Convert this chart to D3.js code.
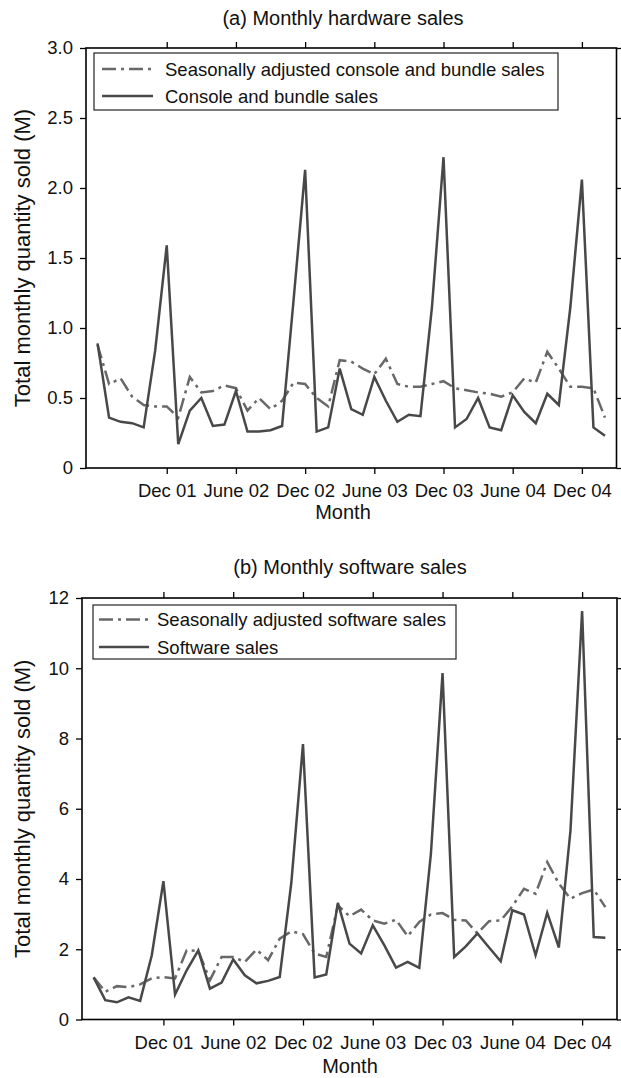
<!DOCTYPE html>
<html><head><meta charset="utf-8">
<script src="https://cdn.jsdelivr.net/npm/d3@7"></script>
<style>
body{margin:0;background:#fff}
text{font-family:"Liberation Sans",Arial,Helvetica,sans-serif;fill:#111}
</style>
</head><body>
<svg id="c" width="621" height="1078"></svg>
<script>
// ---------- data ----------
const months = ["2001-06","2001-07","2001-08","2001-09","2001-10","2001-11","2001-12",
  "2002-01","2002-02","2002-03","2002-04","2002-05","2002-06","2002-07","2002-08","2002-09","2002-10","2002-11","2002-12",
  "2003-01","2003-02","2003-03","2003-04","2003-05","2003-06","2003-07","2003-08","2003-09","2003-10","2003-11","2003-12",
  "2004-01","2004-02","2004-03","2004-04","2004-05","2004-06","2004-07","2004-08","2004-09","2004-10","2004-11","2004-12",
  "2005-01","2005-02"];

const hwSales = [0.89,0.36,0.33,0.32,0.29,0.84,1.59,
  0.17,0.41,0.50,0.30,0.31,0.55,0.26,0.26,0.27,0.30,1.20,2.13,
  0.26,0.29,0.71,0.42,0.38,0.65,0.48,0.33,0.38,0.37,1.15,2.22,
  0.29,0.35,0.50,0.29,0.27,0.52,0.40,0.32,0.53,0.45,1.15,2.06,
  0.29,0.23];
const hwAdjusted = [0.88,0.60,0.64,0.51,0.45,0.44,0.44,
  0.36,0.65,0.54,0.55,0.59,0.57,0.41,0.50,0.42,0.48,0.61,0.60,
  0.50,0.44,0.77,0.76,0.71,0.67,0.78,0.60,0.58,0.58,0.60,0.62,
  0.57,0.555,0.54,0.53,0.51,0.54,0.64,0.61,0.83,0.71,0.58,0.58,
  0.57,0.36];

const swSales = [1.20,0.55,0.49,0.63,0.53,1.83,3.94,
  0.71,1.40,1.97,0.88,1.05,1.71,1.26,1.03,1.10,1.21,3.90,7.84,
  1.20,1.28,3.32,2.16,1.88,2.68,2.11,1.48,1.64,1.47,4.72,9.86,
  1.78,2.08,2.45,2.05,1.66,3.11,2.99,1.83,3.04,2.05,5.38,11.63,
  2.35,2.33];
const swAdjusted = [1.20,0.79,0.95,0.92,1.00,1.17,1.21,
  1.17,1.97,1.95,1.12,1.78,1.78,1.64,1.99,1.69,2.30,2.51,2.43,
  1.88,1.78,3.25,2.94,3.13,2.82,2.73,2.84,2.37,2.78,2.99,3.03,
  2.84,2.82,2.45,2.80,2.82,3.22,3.72,3.58,4.48,3.87,3.44,3.60,
  3.70,3.20];

const xDomainMonths = ["2001-05","2005-03"];
const xTickMonths = ["2001-12","2002-06","2002-12","2003-06","2003-12","2004-06","2004-12"];
const xTickLabels = ["Dec 01","June 02","Dec 02","June 03","Dec 03","June 04","Dec 04"];

const yTicksA = [0,0.5,1,1.5,2,2.5,3];
const yTickLabelsA = ["0","0.5","1.0","1.5","2.0","2.5","3.0"];
const yTicksB = [0,2,4,6,8,10,12];
const yTickLabelsB = ["0","2","4","6","8","10","12"];

const titles = ["(a) Monthly hardware sales","(b) Monthly software sales"];
const legendA = ["Seasonally adjusted console and bundle sales","Console and bundle sales"];
const legendB = ["Seasonally adjusted software sales","Software sales"];
const xLabel = "Month";
const yLabel = "Total monthly quantity sold (M)";

// ---------- drawing ----------
const monthIdx = s => { const [y,m] = s.split("-").map(Number); return (y-2001)*12 + (m-1); };
const svg = d3.select("#c");
const FONT = '"Liberation Sans",Arial,Helvetica,sans-serif';

function panel(cfg){
  const g = svg.append("g");
  const x = d3.scaleLinear().domain(xDomainMonths.map(monthIdx)).range([cfg.left, cfg.right]);
  const y = d3.scaleLinear().domain(cfg.yDomain).range([cfg.bottom, cfg.top]);
  const tv = xTickMonths.map(monthIdx);

  const styleAxis = a => { a.select(".domain").remove();
    a.selectAll(".tick line").attr("stroke","#000").attr("stroke-width",1.3);
    a.selectAll("text").attr("font-size",18.5).attr("fill","#111").style("font-family",FONT); };

  g.append("g").attr("transform",`translate(0,${cfg.bottom})`)
    .call(d3.axisBottom(x).tickValues(tv).tickFormat((d,i)=>xTickLabels[i]).tickSize(6).tickPadding(10))
    .call(styleAxis);
  g.append("g").attr("transform",`translate(0,${cfg.top})`)
    .call(d3.axisTop(x).tickValues(tv).tickFormat("").tickSize(6)).call(styleAxis);
  g.append("g").attr("transform",`translate(${cfg.left},0)`)
    .call(d3.axisLeft(y).tickValues(cfg.yTicks).tickFormat((d,i)=>cfg.yTickLabels[i]).tickSize(6).tickPadding(7))
    .call(styleAxis);
  g.append("g").attr("transform",`translate(${cfg.right},0)`)
    .call(d3.axisRight(y).tickValues(cfg.yTicks).tickFormat("").tickSize(6)).call(styleAxis);

  const line = d3.line().x((d,i)=>x(monthIdx(months[i]))).y(d=>y(d));
  g.append("path").datum(cfg.adjusted).attr("d",line).attr("fill","none")
    .attr("stroke","#686868").attr("stroke-width",2.5).attr("stroke-dasharray","14,5,3,5");
  g.append("path").datum(cfg.sales).attr("d",line).attr("fill","none")
    .attr("stroke","#484848").attr("stroke-width",2.5).attr("stroke-linejoin","miter");

  g.append("rect").attr("x",cfg.left).attr("y",cfg.top)
    .attr("width",cfg.right-cfg.left).attr("height",cfg.bottom-cfg.top)
    .attr("fill","none").attr("stroke","#000").attr("stroke-width",1.6);

  // legend
  const L = cfg.legend;
  g.append("rect").attr("x",L.x).attr("y",L.y).attr("width",L.w).attr("height",L.h)
    .attr("fill","#fff").attr("stroke","#222").attr("stroke-width",1.2);
  cfg.legendLabels.forEach((t,i)=>{
    const yy = L.y + L.row0 + i*L.dy;
    g.append("line").attr("x1",L.lx1).attr("x2",L.lx2).attr("y1",yy).attr("y2",yy)
      .attr("stroke", i===0 ? "#686868" : "#484848").attr("stroke-width",2.5)
      .attr("stroke-dasharray", i===0 ? "14,5,3,5" : null);
    g.append("text").attr("x",L.tx).attr("y",yy).attr("dy","0.36em").attr("font-size",18.5).text(t);
  });

  g.append("text").attr("x",cfg.titleX).attr("y",cfg.titleY).attr("text-anchor","middle")
    .attr("font-size",20).text(cfg.title);
  g.append("text").attr("x",cfg.titleX).attr("y",cfg.xLabelY).attr("text-anchor","middle")
    .attr("font-size",20).text(xLabel);
  g.append("text").attr("transform",`translate(${cfg.yLabelX},${(cfg.top+cfg.bottom)/2}) rotate(-90)`)
    .attr("text-anchor","middle").attr("font-size",22).text(yLabel);
}

panel({left:86, right:616.5, top:48, bottom:468, yDomain:[0,3], yTicks:yTicksA, yTickLabels:yTickLabelsA,
  sales:hwSales, adjusted:hwAdjusted, title:titles[0], titleX:343, titleY:25, xLabelY:519, yLabelX:30,
  legendLabels:legendA,
  legend:{x:94, y:53, w:464, h:57, row0:16, dy:27, lx1:102, lx2:153, tx:165}});

panel({left:82, right:617, top:598, bottom:1019.5, yDomain:[0,12], yTicks:yTicksB, yTickLabels:yTickLabelsB,
  sales:swSales, adjusted:swAdjusted, title:titles[1], titleX:350, titleY:574, xLabelY:1073, yLabelX:30,
  legendLabels:legendB,
  legend:{x:93, y:605, w:363, h:54, row0:14.5, dy:27.5, lx1:99, lx2:149, tx:157}});
</script>
</body></html>
